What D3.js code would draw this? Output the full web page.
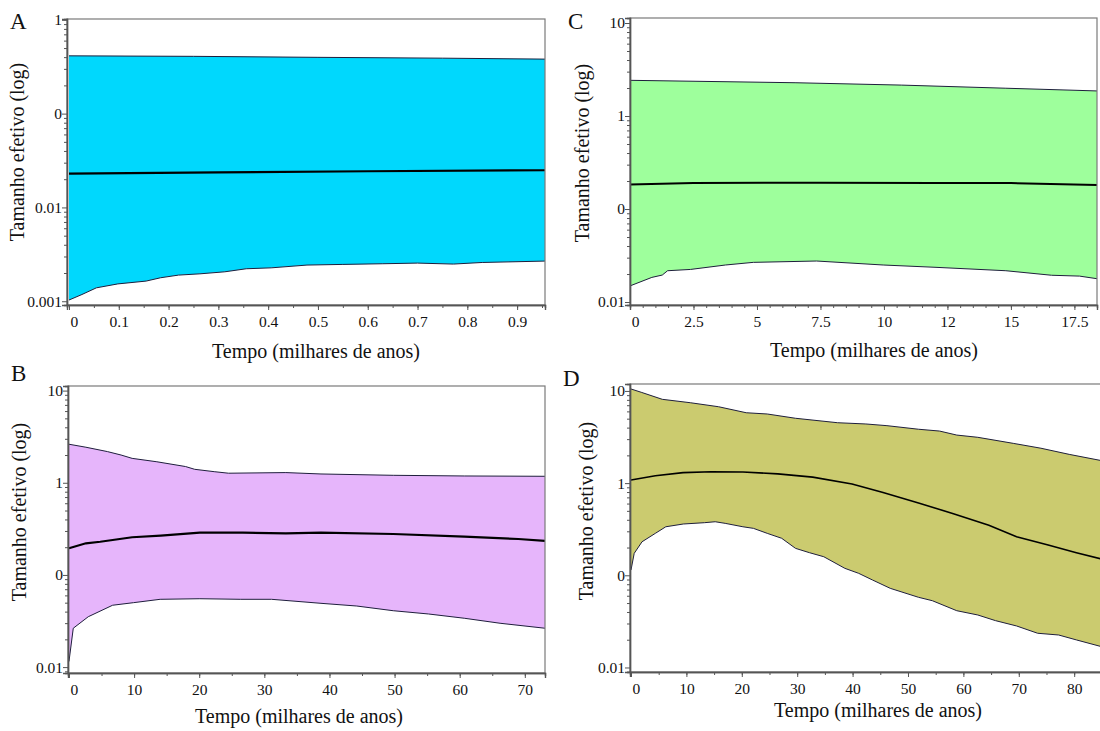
<!DOCTYPE html>
<html>
<head>
<meta charset="utf-8">
<script src="https://cdn.jsdelivr.net/npm/d3@7"></script>
<style>
  html, body { margin: 0; padding: 0; background: #ffffff; }
  svg { display: block; }
</style>
</head>
<body>
<svg id="chart" width="1100" height="731"></svg>
<script>
// ---------------- DATA (time in thousands of years, effective size) ----------------
const A_upper  = [[0,0.413],[0.25,0.408],[0.5,0.398],[0.75,0.39],[0.956,0.381]];
const A_median = [[0,0.0229],[0.3,0.0236],[0.6,0.0243],[0.956,0.0249]];
const A_lower  = [[0,0.00103],[0.026,0.00118],[0.055,0.00139],[0.098,0.00153],[0.155,0.00164],
                  [0.184,0.00178],[0.22,0.0019],[0.263,0.00196],[0.313,0.00206],[0.356,0.00222],
                  [0.406,0.00227],[0.478,0.00243],[0.55,0.00247],[0.629,0.00251],[0.70,0.00255],
                  [0.772,0.00249],[0.83,0.00259],[0.956,0.00268]];

const C_upper  = [[0,2.42],[6.5,2.28],[10.7,2.15],[14.8,1.99],[18.4,1.86]];
const C_median = [[0,0.184],[2.5,0.19],[7.5,0.192],[12,0.19],[15,0.19],[18.4,0.181]];
const C_lower  = [[0,0.0149],[0.86,0.0184],[1.27,0.0195],[1.48,0.0217],[2.38,0.0224],[3.76,0.025],
                  [4.86,0.0267],[7.35,0.0276],[9.97,0.025],[12.05,0.0236],[14.8,0.0217],
                  [16.6,0.0194],[17.7,0.019],[18.4,0.0178]];

const B_upper  = [[0,2.62],[2.6,2.43],[5.9,2.18],[8.0,2.0],[9.7,1.84],[13.5,1.69],[17.9,1.5],
                  [19.3,1.4],[22.3,1.32],[24.5,1.27],[33.3,1.29],[38.7,1.246],[49.8,1.205],
                  [60.7,1.185],[73.1,1.176]];
const B_median = [[0,0.1945],[2.6,0.2205],[4.8,0.229],[9.7,0.2564],[14.1,0.267],[20.1,0.2877],
                  [26.7,0.2877],[33.3,0.283],[38.7,0.2877],[49.8,0.278],[60.7,0.26],
                  [69.0,0.2455],[73.1,0.2336]];
const B_lower  = [[0,0.0115],[0.66,0.0264],[2.96,0.0352],[6.7,0.0469],[9.9,0.05],[14.0,0.0544],
                  [20.1,0.0552],[26.3,0.0544],[31.1,0.0544],[38.7,0.0492],[44.2,0.046],
                  [49.8,0.0409],[55.2,0.0377],[60.7,0.0339],[66.2,0.0299],[73.1,0.0264]];

const D_upper  = [[0,10.5],[1.84,9.67],[5.65,8.11],[10.7,7.45],[15.8,6.74],[20.8,5.8],[24.6,5.62],
                  [29.7,5.05],[37.3,4.52],[42.4,4.38],[46.2,4.2],[51.9,3.84],[55.7,3.67],
                  [58.8,3.32],[62.6,3.14],[69.0,2.70],[74.0,2.39],[79.1,2.05],[84.8,1.76]];
const D_median = [[0,1.08],[4.4,1.2],[9.4,1.3],[14.5,1.33],[20.2,1.32],[26.5,1.26],[32.8,1.16],
                  [39.9,0.98],[45.5,0.79],[51.9,0.61],[58.2,0.465],[64.6,0.35],[69.6,0.262],
                  [75.3,0.213],[80.4,0.176],[84.8,0.151]];
const D_lower  = [[0,0.114],[0.58,0.173],[1.99,0.231],[4.39,0.285],[6.28,0.336],[9.44,0.36],
                  [13.25,0.372],[15.2,0.381],[17.0,0.366],[20.2,0.336],[22.1,0.323],[24.6,0.285],
                  [27.2,0.252],[29.7,0.196],[32.2,0.176],[34.8,0.159],[38.6,0.119],[41.1,0.105],
                  [43.6,0.0889],[46.8,0.0722],[51.9,0.0577],[54.4,0.053],[58.8,0.0413],
                  [62.6,0.0371],[65.8,0.0322],[69.6,0.0282],[73.4,0.0235],[77.2,0.0225],
                  [80.4,0.0199],[84.8,0.0169]];

// tick values and labels (labels copied as printed)
const A_xTicks = [0,0.1,0.2,0.3,0.4,0.5,0.6,0.7,0.8,0.9];
const A_xLabels = ["0","0.1","0.2","0.3","0.4","0.5","0.6","0.7","0.8","0.9"];
const C_xTicks = [0,2.5,5,7.5,10,12.5,15,17.5];
const C_xLabels = ["0","2.5","5","7.5","10","12","15","17.5"];
const B_xTicks = [0,10,20,30,40,50,60,70];
const B_xLabels = ["0","10","20","30","40","50","60","70"];
const D_xTicks = [0,10,20,30,40,50,60,70,80];
const D_xLabels = ["0","10","20","30","40","50","60","70","80"];

const A_yTicks = [0.001,0.01,0.1,1];
const A_yLabels = ["0.001","0.01","0","1"];
const C_yTicks = [0.01,0.1,1,10];
const C_yLabels = ["0.01","0","1","10"];
const B_yTicks = [0.01,0.1,1,10];
const B_yLabels = ["0.01","0","1","10"];
const D_yTicks = [0.01,0.1,1,10];
const D_yLabels = ["0.01","0","1","10"];

const yTitle = "Tamanho efetivo (log)";
const xTitle = "Tempo (milhares de anos)";

// ---------------- LAYOUT ----------------
const FONT = '"Liberation Serif", "Tinos", "Times New Roman", serif';
const panels = [
  { letter:"A", box:{l:67,r:545,t:19,b:305}, xDom:[-0.004,0.956], yDom:[0.000912,1.02], minorStep:0.05,
    xTicks:A_xTicks, xLabels:A_xLabels, yTicks:A_yTicks, yLabels:A_yLabels,
    upper:A_upper, median:A_median, lower:A_lower, fill:"#00d8fd", medW:2.2,
    letterPos:[10,29], yTitlePos:[24,152], xTitlePos:[316,358] },
  { letter:"C", box:{l:630,r:1097,t:18,b:305}, xDom:[0,18.39], yDom:[0.00929,11.32], minorStep:0.5,
    xTicks:C_xTicks, xLabels:C_xLabels, yTicks:C_yTicks, yLabels:C_yLabels,
    upper:C_upper, median:C_median, lower:C_lower, fill:"#9eff9c", medW:2,
    letterPos:[568,29], yTitlePos:[589,153], xTitlePos:[874,357] },
  { letter:"B", box:{l:68,r:545,t:386,b:673}, xDom:[-0.15,73.1], yDom:[0.00863,11.22], minorStep:5,
    xTicks:B_xTicks, xLabels:B_xLabels, yTicks:B_yTicks, yLabels:B_yLabels,
    upper:B_upper, median:B_median, lower:B_lower, fill:"#e6b5fb", medW:2.2,
    letterPos:[11,381], yTitlePos:[26,512], xTitlePos:[299,723] },
  { letter:"D", box:{l:630,r:1101,t:384,b:672}, xDom:[-0.18,84.84], yDom:[0.00893,11.89], minorStep:5,
    xTicks:D_xTicks, xLabels:D_xLabels, yTicks:D_yTicks, yLabels:D_yLabels,
    upper:D_upper, median:D_median, lower:D_lower, fill:"#cbcb6f", medW:1.6,
    letterPos:[563,386], yTitlePos:[593,511], xTitlePos:[878,717] }
];

const svg = d3.select("#chart");

panels.forEach(p => {
  const g = svg.append("g");
  const x = d3.scaleLinear().domain(p.xDom).range([p.box.l, p.box.r]);
  const y = d3.scaleLog().domain(p.yDom).range([p.box.b, p.box.t]);

  const clipId = "clip" + p.letter;
  g.append("clipPath").attr("id", clipId).append("rect")
    .attr("x", p.box.l).attr("y", p.box.t)
    .attr("width", p.box.r - p.box.l).attr("height", p.box.b - p.box.t);

  const line = d3.line().x(d => x(d[0])).y(d => y(d[1]));
  const plot = g.append("g").attr("clip-path", `url(#${clipId})`);

  // HPD band
  const poly = p.upper.concat(p.lower.slice().reverse());
  plot.append("path").attr("d", line(poly) + "Z")
    .attr("fill", p.fill).attr("stroke", "none");
  plot.append("path").attr("d", line(p.upper))
    .attr("fill", "none").attr("stroke", "#1e1e3c").attr("stroke-width", 1);
  plot.append("path").attr("d", line(p.lower))
    .attr("fill", "none").attr("stroke", "#1e1e3c").attr("stroke-width", 1);
  plot.append("path").attr("d", line(p.median))
    .attr("fill", "none").attr("stroke", "#000").attr("stroke-width", p.medW);

  // frame
  g.append("rect")
    .attr("x", p.box.l).attr("y", p.box.t)
    .attr("width", p.box.r - p.box.l).attr("height", p.box.b - p.box.t)
    .attr("fill", "none").attr("stroke", "#7a7a7a").attr("stroke-width", 1.2);

  // x axis
  const xMinor = d3.range(Math.ceil(p.xDom[0] / p.minorStep) * p.minorStep, p.xDom[1] + 1e-9, p.minorStep)
    .filter(v => v >= 0);
  const xAxisMinor = d3.axisBottom(x).tickValues(xMinor).tickSize(3).tickFormat("");
  const xAxisMajor = d3.axisBottom(x).tickValues(p.xTicks).tickSize(5)
    .tickFormat((d, i) => p.xLabels[i]);
  const gxm = g.append("g").attr("transform", `translate(0,${p.box.b})`).call(xAxisMinor);
  const gx = g.append("g").attr("transform", `translate(0,${p.box.b})`).call(xAxisMajor);
  [gxm, gx].forEach(a => {
    a.attr("font-family", FONT).attr("font-size", 15.5);
    a.select(".domain").attr("stroke", "#555").attr("stroke-width", 1.4);
    a.selectAll(".tick line").attr("stroke", "#555");
  });
  gx.selectAll(".tick text")
    .style("font-family", FONT).style("font-size", "15.5px").attr("fill", "#111")
    .attr("y", 11)
    .attr("dx", d => d === 0 ? 5 : 0);

  // y axis
  const lo = Math.floor(Math.log10(p.yDom[0])), hi = Math.ceil(Math.log10(p.yDom[1]));
  const yMinor = [];
  for (let k = lo; k <= hi; k++) for (let m = 2; m <= 9; m++) {
    const v = m * Math.pow(10, k);
    if (v >= p.yDom[0] && v <= p.yDom[1]) yMinor.push(v);
  }
  const yAxisMinor = d3.axisLeft(y).tickValues(yMinor).tickSize(3).tickFormat("");
  const yAxisMajor = d3.axisLeft(y).tickValues(p.yTicks).tickSize(5)
    .tickFormat((d, i) => p.yLabels[i]);
  const gym = g.append("g").attr("transform", `translate(${p.box.l},0)`).call(yAxisMinor);
  const gy = g.append("g").attr("transform", `translate(${p.box.l},0)`).call(yAxisMajor);
  [gym, gy].forEach(a => {
    a.attr("font-family", FONT).attr("font-size", 15.5);
    a.select(".domain").attr("stroke", "#555").attr("stroke-width", 1.4);
    a.selectAll(".tick line").attr("stroke", "#555");
  });
  gy.selectAll(".tick text")
    .style("font-family", FONT).style("font-size", "15.5px").attr("fill", "#111")
    .attr("x", -5);

  // titles
  g.append("text").text(p.letter)
    .attr("x", p.letterPos[0]).attr("y", p.letterPos[1])
    .style("font-family", FONT).style("font-size", "23px").attr("fill", "#111");
  g.append("text").text(yTitle)
    .attr("transform", `translate(${p.yTitlePos[0]},${p.yTitlePos[1]}) rotate(-90)`)
    .attr("text-anchor", "middle")
    .style("font-family", FONT).style("font-size", "20px").attr("fill", "#111");
  g.append("text").text(xTitle)
    .attr("x", p.xTitlePos[0]).attr("y", p.xTitlePos[1])
    .attr("text-anchor", "middle")
    .style("font-family", FONT).style("font-size", "20px").attr("fill", "#111");
});
</script>
</body>
</html>
